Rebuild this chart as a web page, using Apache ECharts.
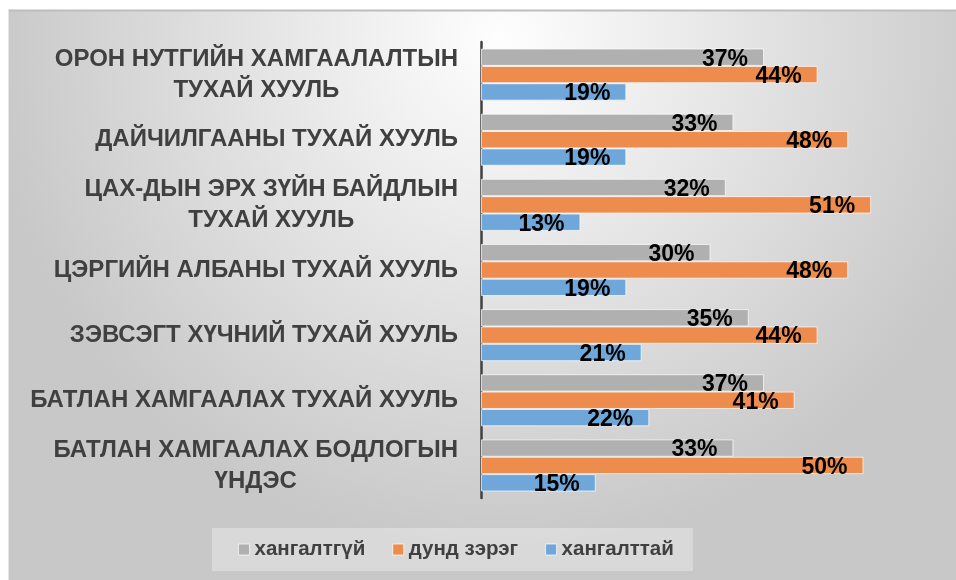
<!DOCTYPE html>
<html>
<head>
<meta charset="utf-8">
<script src="https://cdn.jsdelivr.net/npm/echarts@6/dist/echarts.min.js"></script>
<style>
  html, body { margin: 0; padding: 0; background: #fff; }
  #chart { width: 956px; height: 580px; }
</style>
</head>
<body>
<div id="chart"></div>
<script>
// ангилал (дээрээс доош)
var categories = [
    'ОРОН НУТГИЙН ХАМГААЛАЛТЫН\nТУХАЙ ХУУЛЬ',
    'ДАЙЧИЛГААНЫ ТУХАЙ ХУУЛЬ',
    'ЦАХ-ДЫН ЭРХ ЗҮЙН БАЙДЛЫН\nТУХАЙ ХУУЛЬ',
    'ЦЭРГИЙН АЛБАНЫ ТУХАЙ ХУУЛЬ',
    'ЗЭВСЭГТ ХҮЧНИЙ ТУХАЙ ХУУЛЬ',
    'БАТЛАН ХАМГААЛАХ ТУХАЙ ХУУЛЬ',
    'БАТЛАН ХАМГААЛАХ БОДЛОГЫН\nҮНДЭС'
];
var seriesNames = ['хангалтгүй', 'дунд зэрэг', 'хангалттай'];
var notEnough = [37, 33, 32, 30, 35, 37, 33];
var medium = [44, 48, 51, 48, 44, 41, 50];
var enough = [19, 19, 13, 19, 21, 22, 15];

var colors = ['#b0b0b0', '#ee8c4e', '#6fa7da'];

var chart = echarts.init(document.getElementById('chart'));

function barSeries(name, data, color) {
    return {
        name: name,
        type: 'bar',
        data: data,
        barGap: '0%',
        barCategoryGap: '20%',
        itemStyle: {
            color: color,
            borderColor: 'rgba(255,255,255,0.7)',
            borderWidth: 1
        },
        label: {
            show: true,
            position: 'insideRight',
            distance: 16,
            offset: [0, 2],
            formatter: '{c}%',
            color: '#000',
            fontFamily: 'Liberation Sans, Arial, sans-serif',
            fontWeight: 'bold',
            fontSize: 23
        }
    };
}

var option = {
    animation: false,
    graphic: [
        {
            type: 'rect',
            silent: true,
            z: -10,
            shape: { x: 8, y: 10, width: 948, height: 570 },
            style: {
                fill: new echarts.graphic.RadialGradient(0.52, 0.05, 0.9, [
                    { offset: 0, color: '#fefefe' },
                    { offset: 1, color: '#c8c8c8' }
                ])
            }
        },
        {
            type: 'line',
            silent: true,
            z: -9,
            shape: { x1: 8, y1: 10.5, x2: 956, y2: 10.5 },
            style: { stroke: '#bdbdbd', lineWidth: 2 }
        },
        {
            type: 'line',
            silent: true,
            z: -9,
            shape: { x1: 8.5, y1: 10, x2: 8.5, y2: 580 },
            style: { stroke: '#e6e6e6', lineWidth: 1 }
        }
    ],
    legend: {
        data: seriesNames,
        left: 212,
        top: 528,
        padding: [11, 19, 11, 26],
        backgroundColor: 'rgba(255,255,255,0.32)',
        itemWidth: 11,
        itemHeight: 11,
        itemGap: 27,
        icon: 'rect',
        itemStyle: { borderColor: 'rgba(255,255,255,0.7)', borderWidth: 1 },
        textStyle: {
            color: '#404040',
            fontFamily: 'Liberation Sans, Arial, sans-serif',
            fontWeight: 'bold',
            fontSize: 20.5
        }
    },
    grid: {
        left: 481,
        right: 16,
        top: 42,
        bottom: 82
    },
    xAxis: {
        type: 'value',
        min: 0,
        max: 60,
        show: false
    },
    yAxis: {
        type: 'category',
        inverse: true,
        data: categories,
        axisLine: { show: true, lineStyle: { color: '#404040', width: 2.5 } },
        axisTick: { show: false },
        axisLabel: {
            margin: 23,
            formatter: function (v) {
                return v.split('\n').map(function (s) { return '{c|' + s + '}'; }).join('\n');
            },
            rich: {
                c: {
                    align: 'center',
                    color: '#404040',
                    fontFamily: 'Liberation Sans, Arial, sans-serif',
                    fontWeight: 'bold',
                    fontSize: 24,
                    lineHeight: 31
                }
            }
        }
    },
    series: [
        barSeries(seriesNames[0], notEnough, colors[0]),
        barSeries(seriesNames[1], medium, colors[1]),
        barSeries(seriesNames[2], enough, colors[2])
    ]
};

chart.setOption(option);
</script>
</body>
</html>
